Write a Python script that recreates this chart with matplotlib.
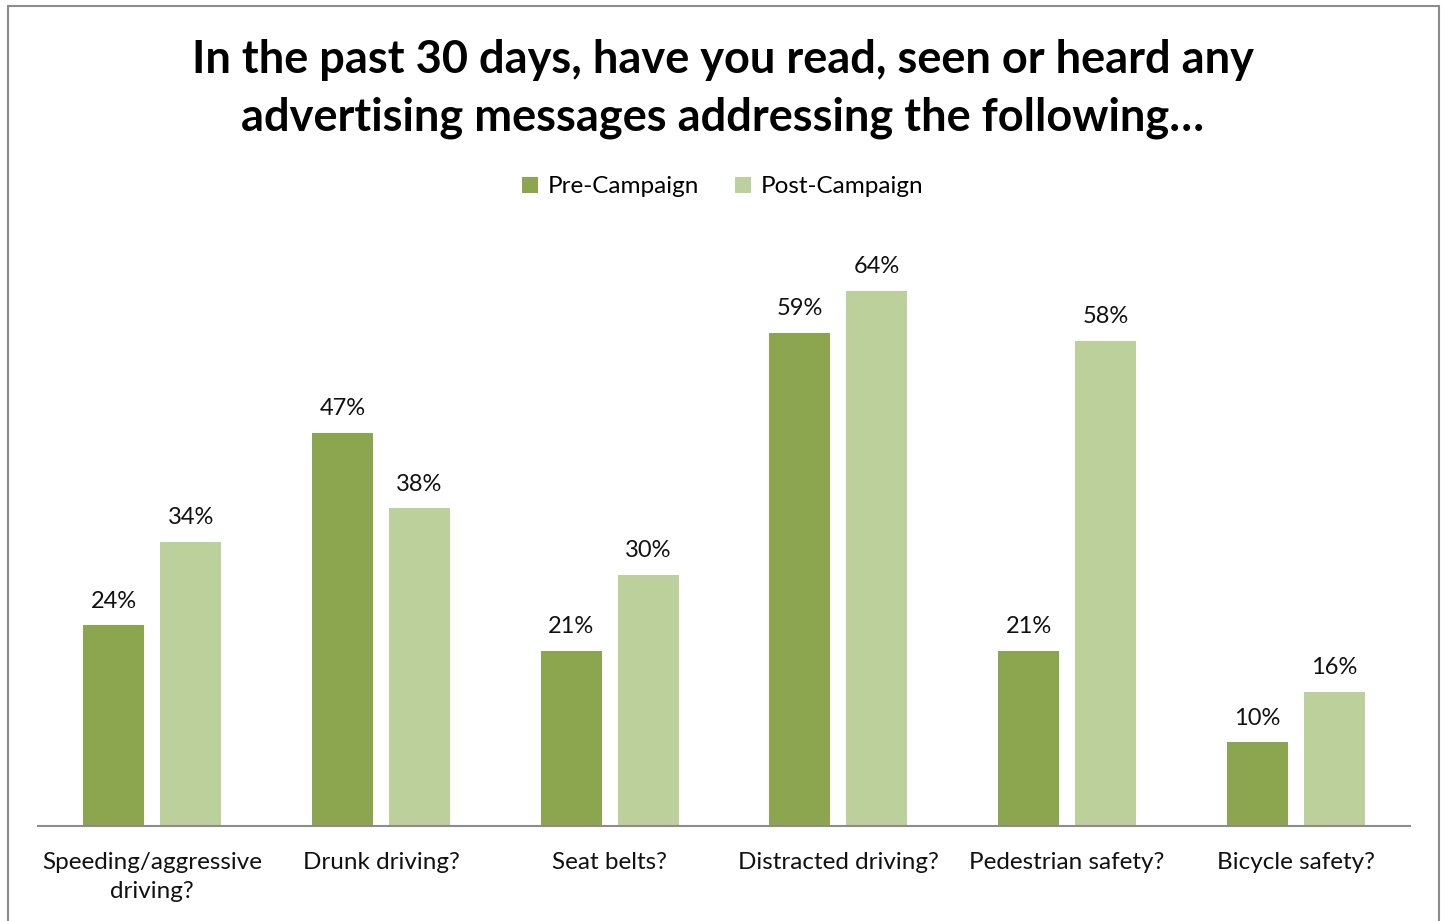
import matplotlib.pyplot as plt
import numpy as np
from matplotlib.patches import Rectangle

# Dados da pesquisa
categorias = ["Speeding/aggressive\ndriving?", "Drunk driving?", "Seat belts?",
              "Distracted driving?", "Pedestrian safety?", "Bicycle safety?"]
pre_campanha = [24, 47, 21, 59, 21, 10]
pos_campanha = [34, 38, 30, 64, 58, 16]
series = ["Pre-Campaign", "Post-Campaign"]

COR_PRE = "#8BA64F"
COR_POS = "#BBD09A"

plt.rcParams["font.family"] = ["Lato", "DejaVu Sans"]

fig = plt.figure(figsize=(14.45, 9.21), dpi=100)
ax = fig.add_axes([0.0263, 0.1031, 0.9495, 0.6352])

x = np.arange(len(categorias))
largura = 0.267
desloc = 0.168
b1 = ax.bar(x - desloc, pre_campanha, largura, color=COR_PRE, label=series[0])
b2 = ax.bar(x + desloc, pos_campanha, largura, color=COR_POS, label=series[1])

for barras in (b1, b2):
    for b in barras:
        ax.annotate(f"{b.get_height():.0f}%", (b.get_x() + b.get_width() / 2, b.get_height()),
                    xytext=(0, 10), textcoords="offset points", ha="center", va="bottom",
                    fontsize=17, color="#111111")

ax.set_xlim(-0.5, len(categorias) - 0.5)
ax.set_ylim(0, 70)
ax.set_yticks([])
ax.set_xticks(x)
ax.set_xticklabels(categorias, fontsize=17.5, color="#111111", linespacing=1.45)
ax.tick_params(axis="x", length=0, pad=19)
for lado in ("top", "right", "left"):
    ax.spines[lado].set_visible(False)
ax.spines["bottom"].set_color("#8c8c8c")
ax.spines["bottom"].set_linewidth(1.5)

fig.text(0.5, 0.9035, "In the past 30 days, have you read, seen or heard any\n"
         "advertising messages addressing the following…",
         ha="center", va="center", fontsize=32.5, fontweight="bold", linespacing=1.45)

fig.legend(loc="center", bbox_to_anchor=(0.5, 0.797), ncol=2, frameon=False,
           fontsize=17.5, handlelength=0.65, handleheight=0.65, handletextpad=0.4,
           columnspacing=1.5)

# Moldura do gráfico
fig.patches.append(Rectangle((8 / 1445, -0.05), 1431 / 1445, 1.05 - 6 / 921,
                             transform=fig.transFigure, fill=False,
                             edgecolor="#8c8c8c", linewidth=1.5))

fig.savefig("out.png", dpi=100)
